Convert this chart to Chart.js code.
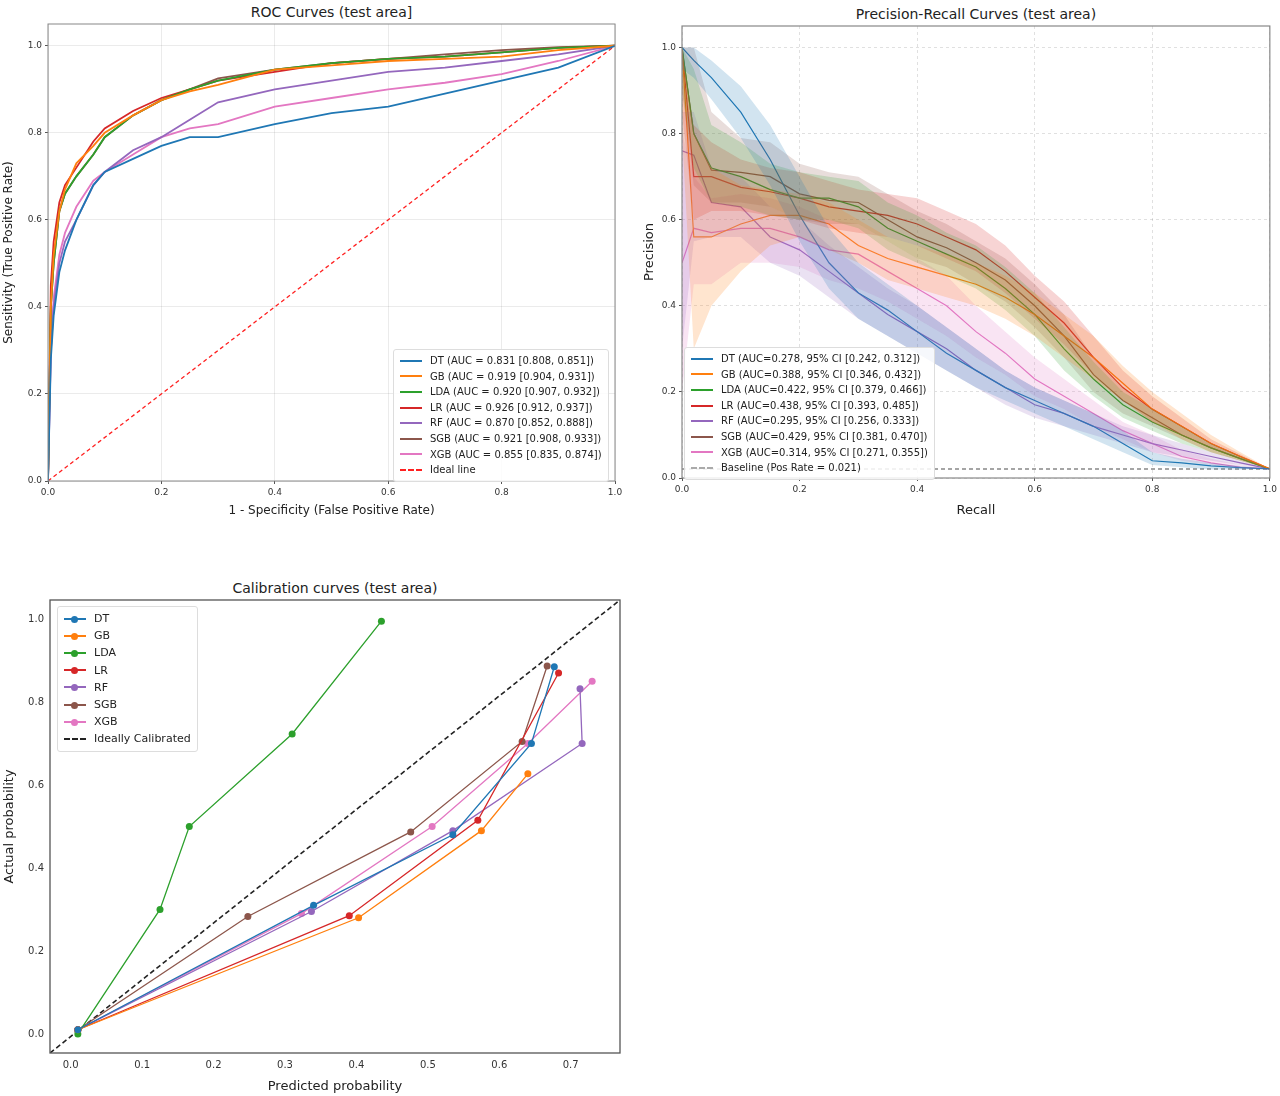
<!DOCTYPE html>
<html><head><meta charset="utf-8">
<script src="https://cdn.jsdelivr.net/npm/chart.js@4.4.0/dist/chart.umd.min.js"></script>
<style>
body{margin:0;background:#fff;font-family:"DejaVu Sans",sans-serif;}
.box{position:absolute;}
.ttl{position:absolute;font-size:14px;color:#222;text-align:center;}
.leg{position:absolute;background:rgba(255,255,255,0.85);border:1px solid #ddd;border-radius:3px;font-size:10px;color:#222;padding:3px 6px;}
.leg div{display:flex;align-items:center;white-space:nowrap;}
.sw{display:inline-block;width:22px;height:0;margin-right:8px;position:relative;}
.dot{position:absolute;left:7px;top:-4px;width:7px;height:7px;border-radius:50%;}
</style></head><body>
<div class="ttl" style="left:48px;width:567px;top:4px;">ROC Curves (test area]</div>
<div class="ttl" style="left:682px;width:588px;top:6px;">Precision-Recall Curves (test area)</div>
<div class="ttl" style="left:50px;width:570px;top:580px;">Calibration curves (test area)</div>
<div class="box" style="left:0;top:0;width:630px;height:520px;"><canvas id="c1"></canvas></div>
<div class="box" style="left:640px;top:0;width:640px;height:520px;"><canvas id="c2"></canvas></div>
<div class="box" style="left:0;top:580px;width:630px;height:516px;"><canvas id="c3"></canvas></div>
<div class="leg" id="l1" style="left:393px;top:349px;line-height:15.6px;"></div>
<div class="leg" id="l2" style="left:684px;top:347px;line-height:15.6px;"></div>
<div class="leg" id="l3" style="left:57px;top:606px;font-size:11px;line-height:17.2px;"></div>
<script>
const models = ["DT","GB","LDA","LR","RF","SGB","XGB"];
const colors = ["#1f77b4","#ff7f0e","#2ca02c","#d62728","#9467bd","#8c564b","#e377c2"];
const bands = ["rgba(31,119,180,0.2)","rgba(255,127,14,0.2)","rgba(44,160,44,0.2)","rgba(214,39,40,0.2)","rgba(148,103,189,0.2)","rgba(140,86,75,0.2)","rgba(227,119,194,0.2)"];
const rocLabels = ["DT (AUC = 0.831 [0.808, 0.851])","GB (AUC = 0.919 [0.904, 0.931])","LDA (AUC = 0.920 [0.907, 0.932])","LR (AUC = 0.926 [0.912, 0.937])","RF (AUC = 0.870 [0.852, 0.888])","SGB (AUC = 0.921 [0.908, 0.933])","XGB (AUC = 0.855 [0.835, 0.874])"];
const prLabels = ["DT (AUC=0.278, 95% CI [0.242, 0.312])","GB (AUC=0.388, 95% CI [0.346, 0.432])","LDA (AUC=0.422, 95% CI [0.379, 0.466])","LR (AUC=0.438, 95% CI [0.393, 0.485])","RF (AUC=0.295, 95% CI [0.256, 0.333])","SGB (AUC=0.429, 95% CI [0.381, 0.470])","XGB (AUC=0.314, 95% CI [0.271, 0.355])"];

const fpr = [0,0.005,0.01,0.02,0.03,0.05,0.08,0.1,0.15,0.2,0.25,0.3,0.4,0.5,0.6,0.7,0.8,0.9,1.0];
const tprDT  = [0,0.28,0.38,0.48,0.53,0.60,0.68,0.71,0.74,0.77,0.79,0.79,0.82,0.845,0.86,0.89,0.92,0.95,1];
const tprGB  = [0,0.40,0.52,0.62,0.67,0.73,0.77,0.80,0.84,0.875,0.895,0.91,0.945,0.955,0.965,0.97,0.975,0.99,1];
const tprLDA = [0,0.40,0.50,0.62,0.66,0.70,0.75,0.79,0.84,0.875,0.90,0.92,0.945,0.96,0.97,0.975,0.985,0.995,1];
const tprLR  = [0,0.45,0.55,0.64,0.68,0.72,0.78,0.81,0.85,0.88,0.90,0.92,0.94,0.96,0.97,0.975,0.985,0.995,1];
const tprRF  = [0,0.30,0.40,0.50,0.55,0.60,0.68,0.71,0.76,0.79,0.83,0.87,0.90,0.92,0.94,0.95,0.965,0.98,1];
const tprSGB = [0,0.40,0.50,0.62,0.66,0.70,0.75,0.79,0.84,0.875,0.90,0.925,0.945,0.96,0.97,0.98,0.99,0.997,1];
const tprXGB = [0,0.30,0.42,0.52,0.57,0.63,0.69,0.71,0.75,0.79,0.81,0.82,0.86,0.88,0.90,0.915,0.935,0.965,1];
const rocTicks = [0,0.2,0.4,0.6,0.8,1.0];

const recall = [0,0.02,0.05,0.1,0.15,0.2,0.25,0.3,0.35,0.4,0.45,0.5,0.55,0.6,0.65,0.7,0.75,0.8,0.85,0.9,0.95,1.0];
const precDT  = [1.0,0.97,0.93,0.85,0.74,0.61,0.50,0.43,0.39,0.34,0.29,0.25,0.21,0.18,0.15,0.12,0.08,0.04,0.035,0.028,0.024,0.021];
const precGB  = [1.0,0.56,0.56,0.59,0.61,0.61,0.59,0.54,0.51,0.49,0.47,0.45,0.42,0.38,0.33,0.28,0.22,0.16,0.12,0.08,0.05,0.021];
const precLDA = [1.0,0.80,0.72,0.70,0.67,0.65,0.65,0.63,0.58,0.55,0.52,0.49,0.44,0.38,0.30,0.23,0.17,0.13,0.10,0.07,0.045,0.021];
const precLR  = [1.0,0.70,0.70,0.675,0.665,0.65,0.63,0.62,0.61,0.59,0.56,0.53,0.48,0.42,0.36,0.28,0.21,0.16,0.12,0.08,0.05,0.021];
const precRF  = [0.76,0.75,0.64,0.63,0.56,0.53,0.48,0.43,0.38,0.34,0.30,0.25,0.21,0.17,0.15,0.12,0.10,0.08,0.065,0.05,0.035,0.021];
const precSGB = [1.0,0.80,0.715,0.71,0.70,0.66,0.645,0.64,0.60,0.56,0.535,0.50,0.46,0.40,0.33,0.24,0.18,0.14,0.10,0.07,0.045,0.021];
const precXGB = [0.50,0.58,0.57,0.58,0.58,0.56,0.53,0.52,0.48,0.44,0.40,0.34,0.29,0.23,0.19,0.15,0.11,0.08,0.05,0.035,0.025,0.021];
const loDT  = [0.95,0.93,0.88,0.79,0.68,0.55,0.44,0.37,0.33,0.29,0.25,0.21,0.18,0.15,0.12,0.09,0.06,0.03,0.025,0.02,0.02,0.021];
const hiDT  = [1.0,1.0,0.97,0.91,0.82,0.70,0.58,0.50,0.45,0.40,0.35,0.30,0.25,0.21,0.18,0.15,0.11,0.06,0.045,0.035,0.028,0.021];
const loGB  = [0.80,0.30,0.40,0.48,0.54,0.56,0.53,0.50,0.46,0.44,0.42,0.40,0.37,0.33,0.28,0.23,0.18,0.13,0.09,0.06,0.04,0.021];
const hiGB  = [1.0,0.80,0.72,0.68,0.67,0.66,0.64,0.60,0.56,0.54,0.52,0.50,0.47,0.43,0.38,0.33,0.26,0.20,0.15,0.10,0.06,0.021];
const loLDA = [0.90,0.72,0.64,0.63,0.61,0.60,0.60,0.58,0.53,0.50,0.47,0.44,0.39,0.33,0.25,0.19,0.14,0.11,0.08,0.06,0.04,0.021];
const hiLDA = [1.0,0.95,0.82,0.78,0.73,0.71,0.70,0.69,0.64,0.61,0.57,0.54,0.49,0.43,0.35,0.27,0.20,0.16,0.12,0.08,0.05,0.021];
const loLR  = [0.85,0.60,0.62,0.62,0.61,0.60,0.58,0.57,0.56,0.54,0.51,0.48,0.43,0.37,0.31,0.24,0.18,0.13,0.10,0.07,0.045,0.021];
const hiLR  = [1.0,0.82,0.78,0.74,0.72,0.71,0.69,0.67,0.66,0.65,0.62,0.59,0.54,0.47,0.41,0.33,0.25,0.19,0.14,0.09,0.055,0.021];
const loRF  = [0.30,0.55,0.56,0.56,0.50,0.47,0.42,0.37,0.33,0.29,0.25,0.21,0.17,0.14,0.12,0.10,0.08,0.06,0.05,0.04,0.03,0.021];
const hiRF  = [0.85,0.85,0.72,0.70,0.63,0.60,0.54,0.49,0.44,0.40,0.35,0.30,0.25,0.21,0.18,0.15,0.12,0.10,0.08,0.06,0.04,0.021];
const loSGB = [0.90,0.68,0.64,0.64,0.63,0.60,0.59,0.59,0.55,0.51,0.49,0.45,0.41,0.35,0.28,0.20,0.15,0.12,0.09,0.06,0.04,0.021];
const hiSGB = [1.0,1.0,0.85,0.79,0.78,0.73,0.71,0.70,0.66,0.62,0.59,0.55,0.51,0.45,0.38,0.28,0.21,0.16,0.12,0.08,0.05,0.021];
const loXGB = [0.20,0.45,0.45,0.50,0.50,0.49,0.46,0.44,0.41,0.37,0.33,0.28,0.24,0.19,0.16,0.12,0.09,0.06,0.04,0.03,0.022,0.021];
const hiXGB = [0.80,0.70,0.65,0.66,0.65,0.63,0.60,0.59,0.55,0.51,0.47,0.40,0.34,0.28,0.23,0.18,0.13,0.10,0.065,0.045,0.03,0.021];
const baseline = 0.021;

const calPredDT  = [0.01,0.34,0.535,0.645,0.677];
const calActDT   = [0.01,0.31,0.48,0.70,0.885];
const calPredGB  = [0.01,0.403,0.575,0.64];
const calActGB   = [0.01,0.28,0.49,0.627];
const calPredLDA = [0.01,0.125,0.166,0.31,0.435];
const calActLDA  = [0.0,0.30,0.50,0.723,0.995];
const calPredLR  = [0.01,0.39,0.57,0.683];
const calActLR   = [0.01,0.285,0.515,0.87];
const calPredRF  = [0.01,0.337,0.535,0.716,0.713];
const calActRF   = [0.01,0.295,0.49,0.70,0.832];
const calPredSGB = [0.01,0.248,0.476,0.632,0.667];
const calActSGB  = [0.01,0.283,0.487,0.705,0.887];
const calPredXGB = [0.01,0.323,0.506,0.64,0.73];
const calActXGB  = [0.01,0.29,0.50,0.70,0.85];
const calXTicks = [0,0.1,0.2,0.3,0.4,0.5,0.6,0.7];
const calYTicks = [0,0.2,0.4,0.6,0.8,1.0];

const FONT = "DejaVu Sans";
const zip = (xs, ys) => xs.map((x,i)=>({x:x, y:ys[i]}));
const frame = (col,w) => ({id:'frame', afterDraw(c){const a=c.chartArea,g=c.ctx;g.save();g.strokeStyle=col;g.lineWidth=w;g.strokeRect(a.left,a.top,a.right-a.left,a.bottom-a.top);g.restore();}});
const fixTicks = vals => (s => { s.ticks = vals.map(v=>({value:v})); });
function axis(min,max,ticks,title,size,fs,grid,dash){
  return {type:'linear',min:min,max:max,afterBuildTicks:fixTicks(ticks),
    ticks:{font:{family:FONT,size:fs},color:'#333',padding:3,callback:v=>v.toFixed(1),autoSkip:false,maxRotation:0},
    grid:{display:grid,color:'rgba(0,0,0,0.08)',drawTicks:true,tickLength:3,tickColor:'#555'},
    border:{display:false,dash:dash||[]},
    title:{display:true,text:title,font:{family:FONT,size:size},color:'#222',padding:{top:2,bottom:2}}};
}
Chart.defaults.animation = false;
Chart.defaults.font.family = FONT;

// ROC
const rocT = [tprDT,tprGB,tprLDA,tprLR,tprRF,tprSGB,tprXGB];
const rocDs = models.map((m,i)=>({data:zip(fpr,rocT[i]),borderColor:colors[i],borderWidth:1.8,pointRadius:0,tension:0}));
rocDs.push({data:[{x:0,y:0},{x:1,y:1}],borderColor:'#ff2020',borderDash:[4,3],borderWidth:1.3,pointRadius:0});
const ox1 = axis(0,1,rocTicks,'1 - Specificity (False Positive Rate)',12,9,true);
ox1.afterFit = s=>{s.height=39;};
const oy1 = axis(0,1.05,rocTicks,'Sensitivity (True Positive Rate)',12,9,true);
oy1.afterFit = s=>{s.width=48;};
new Chart(document.getElementById('c1'),{type:'line',data:{datasets:rocDs},
  options:{responsive:true,maintainAspectRatio:false,layout:{padding:{top:24,right:15,left:0,bottom:0}},
  plugins:{legend:{display:false},tooltip:{enabled:false}},scales:{x:ox1,y:oy1}},plugins:[frame('#888',1)]});

// PR
const prP = [precDT,precGB,precLDA,precLR,precRF,precSGB,precXGB];
const prLo = [loDT,loGB,loLDA,loLR,loRF,loSGB,loXGB];
const prHi = [hiDT,hiGB,hiLDA,hiLR,hiRF,hiSGB,hiXGB];
const prDs = [];
models.forEach((m,i)=>{
  prDs.push({data:zip(recall,prLo[i]),borderWidth:0,pointRadius:0,fill:false,borderColor:'transparent'});
  prDs.push({data:zip(recall,prHi[i]),borderWidth:0,pointRadius:0,fill:'-1',backgroundColor:bands[i],borderColor:'transparent'});
});
models.forEach((m,i)=>prDs.push({data:zip(recall,prP[i]),borderColor:colors[i],borderWidth:1.2,pointRadius:0,fill:false}));
prDs.push({data:[{x:0,y:baseline},{x:1,y:baseline}],borderColor:'#888',borderDash:[4,3],borderWidth:1.4,pointRadius:0,fill:false});
const ox2 = axis(0,1,rocTicks,'Recall',13,9,true,[3,3]);
ox2.grid.color='rgba(0,0,0,0.12)'; ox2.afterFit = s=>{s.height=42;};
const oy2 = axis(0,1.05,rocTicks,'Precision',13,9,true,[3,3]);
oy2.grid.color='rgba(0,0,0,0.12)'; oy2.afterFit = s=>{s.width=42;};
new Chart(document.getElementById('c2'),{type:'line',data:{datasets:prDs},
  options:{responsive:true,maintainAspectRatio:false,layout:{padding:{top:26,right:10,left:0,bottom:0}},
  plugins:{legend:{display:false},tooltip:{enabled:false},filler:{propagate:false}},scales:{x:ox2,y:oy2}},
  plugins:[frame('#888',1.2)]});

// Calibration
const calP = [calPredDT,calPredGB,calPredLDA,calPredLR,calPredRF,calPredSGB,calPredXGB];
const calA = [calActDT,calActGB,calActLDA,calActLR,calActRF,calActSGB,calActXGB];
const xmin=-0.029,xmax=0.769,ymin=-0.046,ymax=1.046;
const calDs = models.map((m,i)=>({data:zip(calP[i],calA[i]),borderColor:colors[i],backgroundColor:colors[i],borderWidth:1.3,pointRadius:3.5,pointBorderWidth:0,tension:0}));
calDs.push({data:[{x:xmin,y:ymin},{x:xmax,y:ymax}],borderColor:'#222',borderDash:[5,3],borderWidth:1.6,pointRadius:0});
const ox3 = axis(xmin,xmax,calXTicks,'Predicted probability',13,10,false);
ox3.afterFit = s=>{s.height=43;};
const oy3 = axis(ymin,ymax,calYTicks,'Actual probability',13,10,false);
oy3.afterFit = s=>{s.width=50;};
new Chart(document.getElementById('c3'),{type:'line',data:{datasets:calDs},
  options:{responsive:true,maintainAspectRatio:false,layout:{padding:{top:20,right:10,left:0,bottom:0}},
  plugins:{legend:{display:false},tooltip:{enabled:false}},scales:{x:ox3,y:oy3}},plugins:[frame('#555',1.3)]});

// HTML legends
function legend(id,labels,extra,dots){
  const el=document.getElementById(id);
  labels.forEach((t,i)=>{
    el.insertAdjacentHTML('beforeend',`<div><span class="sw" style="border-top:2px solid ${colors[i]}">${dots?`<span class="dot" style="background:${colors[i]}"></span>`:''}</span>${t}</div>`);
  });
  el.insertAdjacentHTML('beforeend',`<div><span class="sw" style="border-top:2px dashed ${extra[1]}"></span>${extra[0]}</div>`);
}
legend('l1',rocLabels,['Ideal line','#ff2020'],false);
legend('l2',prLabels,['Baseline (Pos Rate = 0.021)','#aaa'],false);
legend('l3',models,['Ideally Calibrated','#222'],true);
</script></body></html>
